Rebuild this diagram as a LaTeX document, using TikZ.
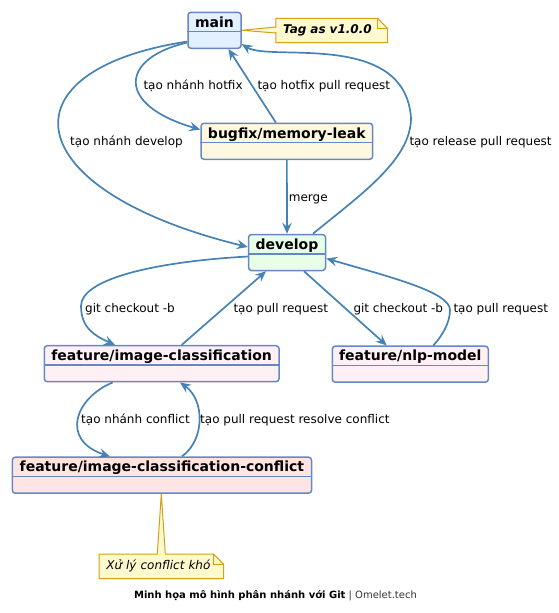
\documentclass[tikz,border=0pt]{standalone}
\usepackage{fontspec}
\setmainfont{DejaVu Sans}
\usetikzlibrary{arrows.meta,calc}
\pgfdeclarelayer{bg}
\pgfsetlayers{bg,main}
\definecolor{edgec}{HTML}{4682B4}
\definecolor{boxc}{HTML}{6688C2}
\definecolor{mainfill}{HTML}{E3F0FF}
\definecolor{bugfill}{HTML}{FFF8E1}
\definecolor{devfill}{HTML}{E6FFE6}
\definecolor{featfill}{HTML}{FFF0F5}
\definecolor{conffill}{HTML}{FFE4E4}
\definecolor{notefill}{HTML}{FFFACD}
\definecolor{notec}{HTML}{D4A017}
\definecolor{captgray}{HTML}{333333}
\tikzset{
 classbox/.style={draw=boxc, line width=1.5pt, rounded corners=3pt, minimum height=36pt, inner sep=0pt},
 divider/.style={draw=boxc, line width=1.5pt},
 classtitle/.style={font=\fontsize{14}{16}\selectfont\bfseries, inner sep=0pt},
 edge/.style={draw=edgec, line width=1.7pt, -{Stealth[length=11pt,width=9.5pt,inset=4pt]}},
 elabel/.style={font=\fontsize{12}{14}\selectfont, inner sep=0pt, anchor=mid west},
 notebox/.style={minimum height=24pt, inner xsep=7pt, inner ysep=0pt, align=left, font=\fontsize{12}{14}\selectfont},
 noteline/.style={draw=notec, fill=notefill, line width=1pt},
}
\newcommand\umlclass[6]{%
 \node[classbox, fill=#5, minimum width=#4pt] (#1) at (#2,#3) {};
 \draw[divider] ([yshift=-20pt]#1.north west) -- ([yshift=-20pt]#1.north east);
 \node[classtitle, anchor=base] (#1-t) at ([yshift=-15.5pt]#1.north) {#6};
}
\begin{document}
\begin{tikzpicture}[x=1pt,y=-1pt]
\useasboundingbox (0,0) rectangle (558,613);

% classes
\umlclass{main}{214.5}{30.3}{53}{mainfill}{main}
\umlclass{bugfix}{286.85}{141.3}{171.7}{bugfill}{bugfix/memory-leak}
\umlclass{develop}{287}{252.5}{77}{devfill}{develop}
\umlclass{nlp}{410.3}{364.2}{156}{featfill}{feature/nlp-model}
\umlclass{imgcls}{161.65}{363.7}{234.7}{featfill}{feature/image-classification}
\umlclass{conflict}{161.9}{475.2}{299.2}{conffill}{feature/image-classification-conflict}

% notes
\node[notebox, text width=97.3pt, font=\fontsize{12}{14}\selectfont\bfseries\itshape] (tagnote) at (331.65,30.5) {Tag as v1.0.0};
\node[notebox, text width=110pt, font=\fontsize{12}{14}\selectfont\itshape] (xnote) at (161.3,566.3) {Xử lý conflict khó};

\begin{pgfonlayer}{bg}
 % tag note
 \draw[noteline] (main.east) -- ([yshift=3.5pt]tagnote.west) -- ([yshift=-2.5pt]tagnote.west) -- cycle;
 \draw[noteline] (tagnote.north west) -- ([xshift=-10pt]tagnote.north east) -- ([yshift=-10pt]tagnote.north east) -- (tagnote.south east) -- (tagnote.south west) -- cycle;
 \draw[noteline, fill=none] ([xshift=-10pt]tagnote.north east) -- ([xshift=-10pt,yshift=-10pt]tagnote.north east) -- ([yshift=-10pt]tagnote.north east);
 \draw[notefill, line width=1.6pt] ([yshift=2.9pt]tagnote.west) -- ([yshift=-1.9pt]tagnote.west);
 % conflict note
 \draw[noteline] ([xshift=-0.6pt]conflict.south) -- ([xshift=-4pt]xnote.north) -- ([xshift=4pt]xnote.north) -- cycle;
 \draw[noteline] (xnote.north west) -- ([xshift=-10pt]xnote.north east) -- ([yshift=-10pt]xnote.north east) -- (xnote.south east) -- (xnote.south west) -- cycle;
 \draw[noteline, fill=none] ([xshift=-10pt]xnote.north east) -- ([xshift=-10pt,yshift=-10pt]xnote.north east) -- ([yshift=-10pt]xnote.north east);
 \draw[notefill, line width=1.6pt] ([xshift=-3.4pt]xnote.north) -- ([xshift=3.4pt]xnote.north);
\end{pgfonlayer}

% edges
\draw[edge] ([yshift=6.5pt]main.south west) .. controls (120,58) and (115,105) .. ([yshift=-7pt]bugfix.north west);
\draw[edge] ([xshift=-11pt]bugfix.north) -- ([xshift=14pt]main.south);
\draw[edge] ([yshift=7.5pt]main.south west) .. controls (0,70) and (15,190) .. ([yshift=5.5pt]develop.west);
\draw[edge] ([xshift=26pt]develop.north) .. controls (360,195) and (411,160) .. (411,118) .. controls (405,30) and (270,62) .. ([yshift=5pt]main.south east);
\draw[edge] (bugfix.south) -- (develop.north);
\draw[edge] ([yshift=-4pt]develop.west) .. controls (150,262) and (81,280) .. (81,306) .. controls (81,328) and (95,336) .. ([xshift=-46.6pt]imgcls.north);
\draw[edge] ([xshift=20pt]imgcls.north) -- ([xshift=-21pt]develop.south);
\draw[edge] ([xshift=17pt]develop.south) -- ([xshift=-23.6pt]nlp.north);
\draw[edge] ([xshift=23pt]nlp.north) .. controls (443,335) and (450,322) .. (450,310) .. controls (450,292) and (390,277) .. ([yshift=-6pt]develop.east);
\draw[edge] ([xshift=-49pt]imgcls.south) .. controls (75,398) and (60,440) .. ([xshift=-52pt]conflict.north);
\draw[edge] ([xshift=20pt]conflict.north) .. controls (205,440) and (205,400) .. ([xshift=18.3pt]imgcls.south);

% edge labels
\node[elabel] (l1) at (143.3,87) {tạo nhánh hotfix};
\node[elabel] (l2) at (257.3,87) {tạo hotfix pull request};
\node[elabel] (l3) at (70,142.5) {tạo nhánh develop};
\node[elabel] (l4) at (409.3,142.5) {tạo release pull request};
\node[elabel] (l5) at (288.7,199) {merge};
\node[elabel] (l6) at (85,310) {git checkout -b};
\node[elabel] (l7) at (233.3,310) {tạo pull request};
\node[elabel] (l8) at (353.3,310) {git checkout -b};
\node[elabel] (l9) at (453.3,310) {tạo pull request};
\node[elabel] (l10) at (81,421) {tạo nhánh conflict};
\node[elabel] (l11) at (200,421) {tạo pull request resolve conflict};

% caption
\node[inner sep=0pt, anchor=mid, font=\fontsize{10}{12}\selectfont] (caption) at (275.5,596) {{\bfseries Minh họa mô hình phân nhánh với Git} \textcolor{captgray}{| Omelet.tech}};
\end{tikzpicture}
\end{document}
